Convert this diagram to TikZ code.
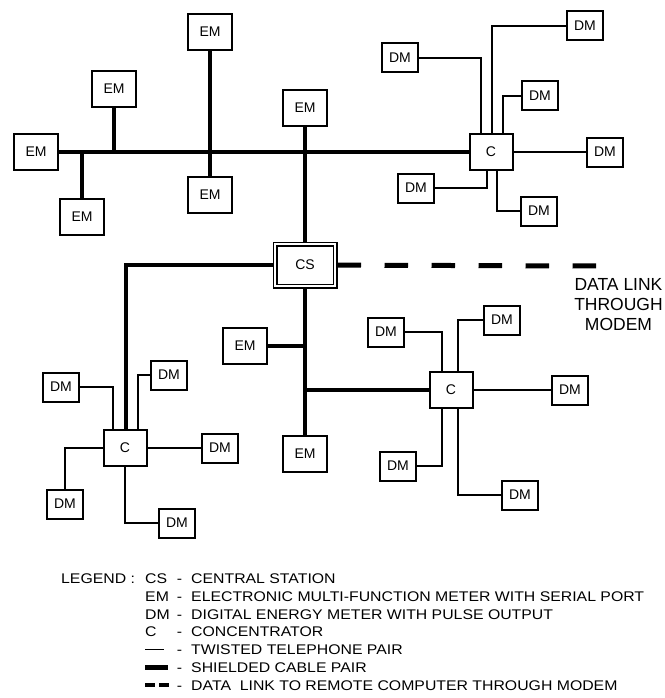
\documentclass[tikz,border=0pt]{standalone}
\usepackage{fontspec}
\setmainfont{Liberation Sans}
\newfontfamily\lgdfont[FakeStretch=1.13]{Liberation Sans}
\begin{document}
\begin{tikzpicture}[
		x=1pt, y=-1pt,
		font=\fontsize{14}{16}\selectfont,
		embox/.style={rectangle, draw, line width=2pt, fill=white, inner sep=0pt, minimum width=44pt, minimum height=36pt},
		dmbox/.style={rectangle, draw, line width=2pt, fill=white, inner sep=0pt, minimum width=36pt, minimum height=29pt},
		cbox/.style={rectangle, draw, line width=2pt, fill=white, inner sep=0pt, minimum width=43pt, minimum height=36pt},
		csbox/.style={rectangle, draw, line width=1.6pt, double, double distance=1.8pt, inner sep=0pt, minimum width=60pt, minimum height=42pt, outer sep=2.5pt},
		sc/.style={line width=4.5pt},
		tp/.style={line width=1.8pt},
		link/.style={line width=5pt, dash pattern=on 23.5pt off 23.5pt},
		lgd/.style={anchor=base west, inner sep=0pt, font=\lgdfont\fontsize{14}{16}\selectfont}
	]
		\useasboundingbox (0,0) rectangle (664,698);
		% central station and meters on the upper cable
		\node[csbox] (cs) at (305,265) {CS};
		\node[embox] (em1) at (210,32) {EM};
		\node[embox] (em2) at (114,89) {EM};
		\node[embox] (em3) at (36,152) {EM};
		\node[embox] (em4) at (82,217) {EM};
		\node[embox] (em5) at (210,195) {EM};
		\node[embox] (em6) at (305,108) {EM};
		\node[embox] (em7) at (245,346) {EM};
		\node[embox] (em8) at (305,454) {EM};
		% concentrators
		\node[cbox] (ct) at (491,152) {C};
		\node[cbox] (cl) at (125,448) {C};
		\node[cbox] (cr) at (451,390) {C};
		% pulse meters
		\node[dmbox] (d1) at (400,58) {DM};
		\node[dmbox] (d2) at (585,26) {DM};
		\node[dmbox] (d3) at (540,96) {DM};
		\node[dmbox] (d4) at (605,152) {DM};
		\node[dmbox] (d5) at (416,188) {DM};
		\node[dmbox] (d6) at (539,211) {DM};
		\node[dmbox] (d7) at (61,387) {DM};
		\node[dmbox] (d8) at (169,375) {DM};
		\node[dmbox] (d9) at (220,448) {DM};
		\node[dmbox] (d10) at (65,504) {DM};
		\node[dmbox] (d11) at (177,523) {DM};
		\node[dmbox] (d12) at (386,332) {DM};
		\node[dmbox] (d13) at (502,320) {DM};
		\node[dmbox] (d14) at (570,390) {DM};
		\node[dmbox] (d15) at (398,466) {DM};
		\node[dmbox] (d16) at (520,495) {DM};
		\coordinate (lend) at (598,266);
		\node[align=center, inner sep=0pt, font=\fontsize{17.5}{20}\selectfont] (dl) at (618.5,304.5) {DATA LINK\\THROUGH\\MODEM};
		% shielded cable
		\draw[sc] (em3) -- (ct);
		\draw[sc] (em4) -- (em4 |- ct);
		\draw[sc] (em2) -- (em2 |- ct);
		\draw[sc] (em1) -- (em5);
		\draw[sc] (em6) -- (cs);
		\draw[sc] (cs) -- (em8);
		\draw[sc] (em7) -- (em7 -| cs);
		\draw[sc] (cs |- cr) -- (cr);
		\draw[sc] (cs) -| ([xshift=1pt]cl.north);
		% twisted pairs
		\draw[tp] (d1) -| ([xshift=-10pt]ct.north);
		\draw[tp] ([xshift=1pt]ct.north) |- (d2);
		\draw[tp] ([xshift=12pt]ct.north) |- (d3);
		\draw[tp] (ct) -- (d4);
		\draw[tp] ([xshift=-4pt]ct.south) |- (d5);
		\draw[tp] ([xshift=6pt]ct.south) |- (d6);
		\draw[tp] (d7) -| ([xshift=-12pt]cl.north);
		\draw[tp] ([xshift=13pt]cl.north) |- (d8);
		\draw[tp] (cl) -- (d9);
		\draw[tp] (cl) -| (d10);
		\draw[tp] (cl) |- (d11);
		\draw[tp] (d12) -| ([xshift=-9pt]cr.north);
		\draw[tp] ([xshift=7pt]cr.north) |- (d13);
		\draw[tp] (cr) -- (d14);
		\draw[tp] ([xshift=-9pt]cr.south) |- (d15);
		\draw[tp] ([xshift=7pt]cr.south) |- (d16);
		% modem link
		\draw[link] (cs) -- (lend);
		% legend
		\node[lgd] (lg) at (61,583.5) {LEGEND :};
		\node[lgd] (k1) at (145,583.5) {CS};
		\node[lgd] (k2) at (145,601.3) {EM};
		\node[lgd] (k3) at (145,619) {DM};
		\node[lgd] (k4) at (145,636.8) {C};
		\draw[tp] (145,649.5) -- (164,649.5);
		\draw[sc] (145,667.3) -- (168,667.3);
		\draw[line width=4.5pt] (145,685) -- (155,685) (159,685) -- (169,685);
		\foreach \y in {583.5,601.3,619,636.8,654.5,672.3,690}
			\node[lgd, anchor=base] at (179.5,\y) {-};
		\node[lgd] (t1) at (191,583.5) {CENTRAL STATION};
		\node[lgd] (t2) at (191,601.3) {ELECTRONIC MULTI-FUNCTION METER WITH SERIAL PORT};
		\node[lgd] (t3) at (191,619) {DIGITAL ENERGY METER WITH PULSE OUTPUT};
		\node[lgd] (t4) at (191,636.8) {CONCENTRATOR};
		\node[lgd] (t5) at (191,654.5) {TWISTED TELEPHONE PAIR};
		\node[lgd] (t6) at (191,672.3) {SHIELDED CABLE PAIR};
		\node[lgd] (t7) at (191,690) {DATA\ \ LINK TO REMOTE COMPUTER THROUGH MODEM};
	\end{tikzpicture}
\end{document}
